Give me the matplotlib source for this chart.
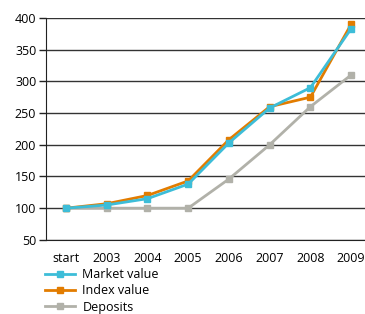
import matplotlib
matplotlib.use("Agg")
import matplotlib.pyplot as plt

plt.rcParams['font.family'] = ['Open Sans', 'DejaVu Sans']

# Data
periods = ['start', '2003', '2004', '2005', '2006', '2007', '2008', '2009']
market_value = [100, 105, 115, 138, 203, 258, 290, 383]
index_value = [100, 107, 120, 143, 208, 260, 275, 390]
deposits = [100, 100, 100, 100, 146, 200, 260, 310]
y_ticks = [50, 100, 150, 200, 250, 300, 350, 400]

fig = plt.figure(figsize=(3.65, 3.14), dpi=100)
ax = fig.add_axes([0.126, 0.236, 0.874, 0.707])

x = list(range(len(periods)))
l3, = ax.plot(x, deposits, color='#b1b1a9', lw=2, marker='s', ms=5, label='Deposits', zorder=3)
l2, = ax.plot(x, index_value, color='#e27c00', lw=2, marker='s', ms=5, label='Index value', zorder=4)
l1, = ax.plot(x, market_value, color='#3dbdd8', lw=2, marker='s', ms=5, label='Market value', zorder=5)

ax.set_ylim(50, 400)
ax.set_xlim(-0.49, 7.34)
ax.set_yticks(y_ticks)
ax.set_xticks(x)
ax.set_xticklabels(periods)
ax.yaxis.grid(True, color='#333333', lw=1)
ax.set_axisbelow(True)
for s in ['top', 'right']:
    ax.spines[s].set_visible(False)
ax.spines['left'].set_color('#222222')
ax.spines['bottom'].set_color('#222222')
ax.tick_params(axis='y', length=5, width=1, color='#222222', labelsize=9, pad=2)
ax.tick_params(axis='x', length=0, labelsize=9, pad=9)

fig.legend(handles=[l1, l2, l3], loc='upper left', bbox_to_anchor=(0.123, 0.146),
           frameon=False, fontsize=9, handlelength=2.4, labelspacing=0.26,
           handletextpad=0.6, borderaxespad=0, borderpad=0)

fig.savefig('out.png', dpi=100)
